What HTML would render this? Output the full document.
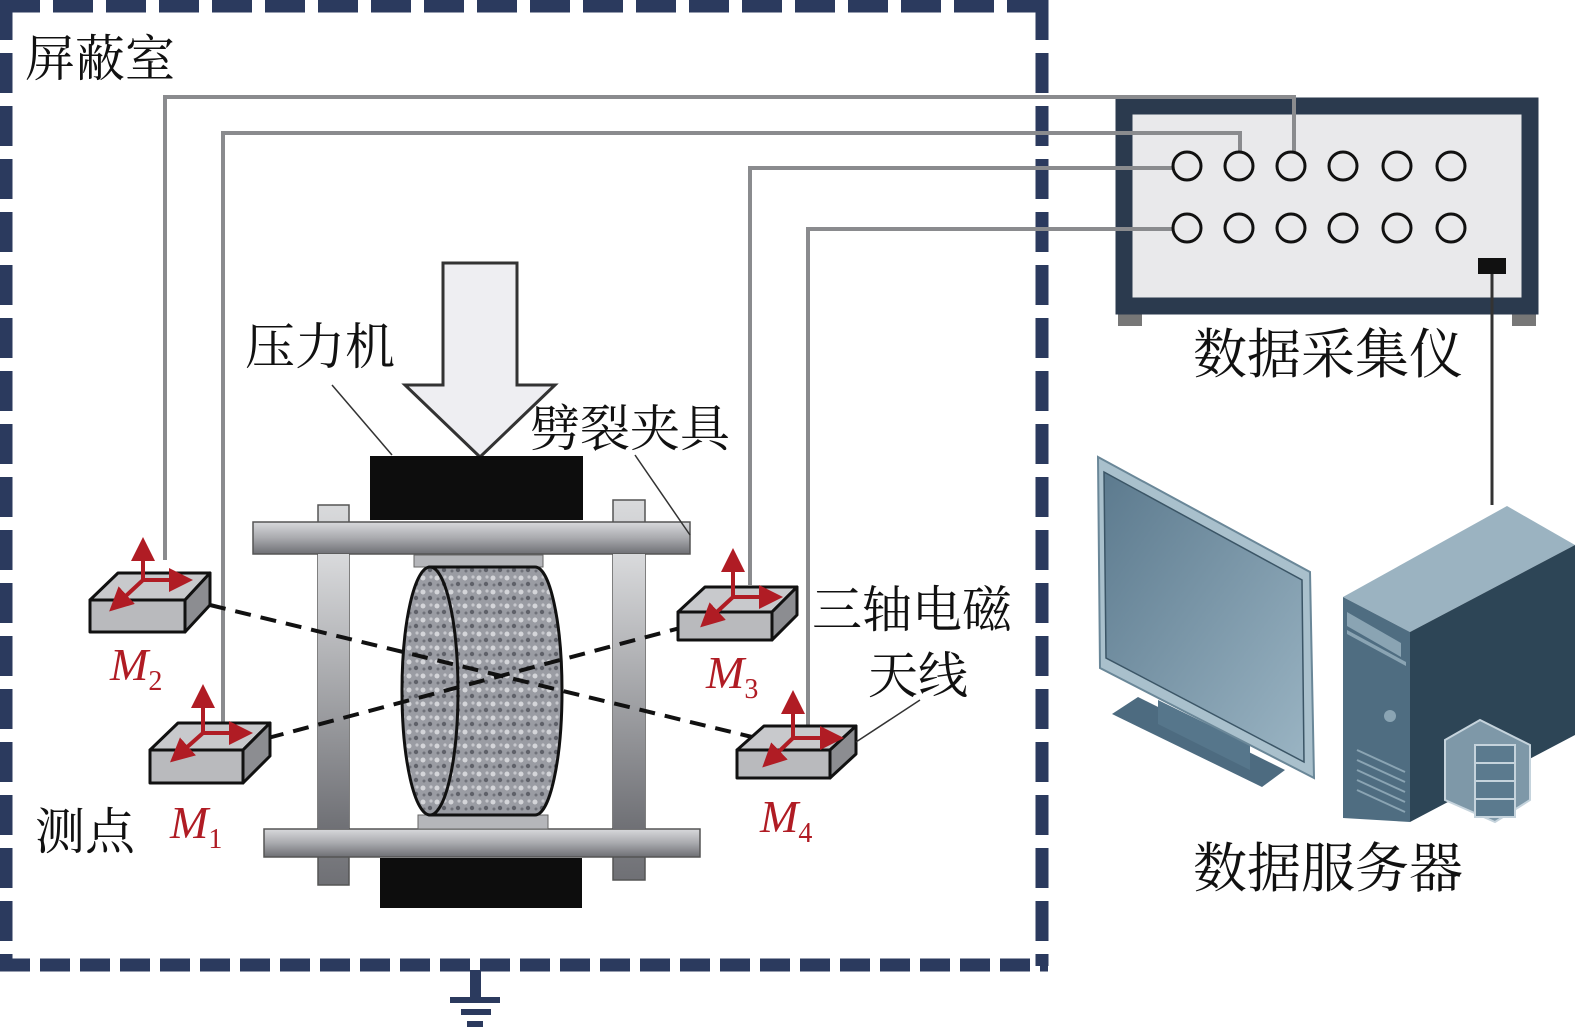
<!DOCTYPE html>
<html><head><meta charset="utf-8"><style>
body{margin:0;background:#fff;}
svg{display:block;}
text{font-family:"Liberation Serif","Noto Serif CJK SC",serif;}
</style></head><body>
<svg width="1575" height="1027" viewBox="0 0 1575 1027" xmlns="http://www.w3.org/2000/svg">
<defs>
<linearGradient id="bar" x1="0" y1="0" x2="0" y2="1"><stop offset="0" stop-color="#d8d9dc"/><stop offset="0.5" stop-color="#a9aaae"/><stop offset="1" stop-color="#6e6f74"/></linearGradient>
<linearGradient id="post" x1="0" y1="0" x2="0" y2="1"><stop offset="0" stop-color="#d9dadc"/><stop offset="1" stop-color="#6f7075"/></linearGradient>
<linearGradient id="scr" x1="0" y1="0" x2="1" y2="1"><stop offset="0" stop-color="#5c7a8e"/><stop offset="1" stop-color="#9ab4c3"/></linearGradient>
<pattern id="gran" width="14" height="14" patternUnits="userSpaceOnUse"><rect width="14" height="14" fill="#9a9ca3"/><circle cx="3" cy="4" r="2.5" fill="#d4d5d9"/><circle cx="10" cy="10" r="2.2" fill="#5f6169"/><circle cx="11" cy="3" r="1.6" fill="#c6c7cc"/><circle cx="4" cy="11" r="1.5" fill="#70727a"/></pattern>
<marker id="ra" markerWidth="6" markerHeight="6" refX="4" refY="3" orient="auto"><path d="M0,0 L6,3 L0,6 Z" fill="#b01c24"/></marker>
</defs>
<g stroke="#2b3a5e" stroke-width="13" fill="none">
<line x1="0" y1="6" x2="1042" y2="6" stroke-dasharray="40,13"/>
<line x1="6" y1="0" x2="6" y2="966" stroke-dasharray="40,13"/>
<line x1="1042" y1="0" x2="1042" y2="966" stroke-dasharray="40,13"/>
<line x1="0" y1="965" x2="1048" y2="965" stroke-dasharray="30,10"/>
</g>
<g fill="#2b3a5e"><rect x="470" y="970" width="11" height="28"/><rect x="450" y="997" width="50" height="6"/><rect x="461" y="1009" width="30" height="6"/><rect x="467" y="1021" width="16" height="6"/></g>
<!-- DAQ -->
<rect x="1118" y="308" width="24" height="18" fill="#777"/><rect x="1512" y="308" width="24" height="18" fill="#777"/>
<rect x="1124" y="106" width="406" height="200" fill="#e9e9eb" stroke="#2b3a4e" stroke-width="17"/>
<g stroke="#8a8b8e" stroke-width="4" fill="none">
<polyline points="165,560 165,97 1294,97 1294,152"/>
<polyline points="223,725 223,133 1240,133 1240,152"/>
<polyline points="750,585 750,168 1173,168"/>
<polyline points="808,735 808,229 1173,229"/>
</g>
<line x1="1492" y1="270" x2="1492" y2="505" stroke="#333" stroke-width="3"/>
<g fill="none" stroke="#111" stroke-width="3">
<circle cx="1187" cy="166" r="14"/><circle cx="1239" cy="166" r="14"/><circle cx="1291" cy="166" r="14"/><circle cx="1343" cy="166" r="14"/><circle cx="1397" cy="166" r="14"/><circle cx="1451" cy="166" r="14"/>
<circle cx="1187" cy="228" r="14"/><circle cx="1239" cy="228" r="14"/><circle cx="1291" cy="228" r="14"/><circle cx="1343" cy="228" r="14"/><circle cx="1397" cy="228" r="14"/><circle cx="1451" cy="228" r="14"/>
</g>
<rect x="1478" y="258" width="28" height="16" fill="#111"/>
<path d="M443,263 L517,263 L517,385 L555,385 L480,457 L405,385 L443,385 Z" fill="#eeeef2" stroke="#333" stroke-width="3"/>
<rect x="370" y="456" width="213" height="64" fill="#0d0d0d"/>
<rect x="380" y="858" width="202" height="50" fill="#0d0d0d"/>
<rect x="318" y="505" width="31" height="380" fill="url(#post)" stroke="#555" stroke-width="1.5"/>
<rect x="613" y="500" width="32" height="380" fill="url(#post)" stroke="#555" stroke-width="1.5"/>
<rect x="253" y="522" width="437" height="32" fill="url(#bar)" stroke="#555" stroke-width="1.5"/>
<rect x="264" y="829" width="436" height="28" fill="url(#bar)" stroke="#555" stroke-width="1.5"/>
<rect x="318" y="554" width="31" height="275" fill="url(#post)"/>
<rect x="613" y="554" width="32" height="275" fill="url(#post)"/>
<rect x="414" y="555" width="129" height="12" fill="#b5b6ba" stroke="#666"/>
<rect x="418" y="815" width="130" height="14" fill="#b5b6ba" stroke="#666"/>
<path d="M430,567 L535,567 A27,124 0 0 1 535,815 L430,815 Z" fill="url(#gran)" stroke="#111" stroke-width="3"/>
<ellipse cx="430" cy="691" rx="28" ry="124" fill="url(#gran)" stroke="#111" stroke-width="3"/>
<g stroke="#111" stroke-width="4" stroke-dasharray="16,10" fill="none">
<line x1="210" y1="605" x2="752" y2="737"/>
<line x1="268" y1="738" x2="680" y2="628"/>
</g>
<g stroke="#111" stroke-width="3" stroke-linejoin="round">
<path d="M90,600 L118,573 L210,573 L185,600 Z" fill="#c8c9cc"/><path d="M185,600 L210,573 L210,605 L185,632 Z" fill="#8c8d91"/><rect x="90" y="600" width="95" height="32" fill="#b9babd"/>
<path d="M150,750 L178,723 L270,723 L243,750 Z" fill="#c8c9cc"/><path d="M243,750 L270,723 L270,756 L243,783 Z" fill="#8c8d91"/><rect x="150" y="750" width="93" height="33" fill="#b9babd"/>
<path d="M678,612 L705,587 L797,587 L772,612 Z" fill="#c8c9cc"/><path d="M772,612 L797,587 L797,615 L772,640 Z" fill="#8c8d91"/><rect x="678" y="612" width="94" height="28" fill="#b9babd"/>
<path d="M737,750 L764,726 L856,726 L830,750 Z" fill="#c8c9cc"/><path d="M830,750 L856,726 L856,754 L830,778 Z" fill="#8c8d91"/><rect x="737" y="750" width="93" height="28" fill="#b9babd"/>
</g>
<g stroke="#b01c24" stroke-width="4" fill="none" marker-end="url(#ra)">
<line x1="143" y1="580" x2="143" y2="545"/><line x1="143" y1="580" x2="185" y2="580"/><line x1="143" y1="580" x2="115" y2="606"/>
<line x1="203" y1="733" x2="203" y2="692"/><line x1="203" y1="733" x2="245" y2="733"/><line x1="203" y1="733" x2="176" y2="757"/>
<line x1="733" y1="597" x2="733" y2="556"/><line x1="733" y1="597" x2="775" y2="597"/><line x1="733" y1="597" x2="706" y2="622"/>
<line x1="793" y1="738" x2="793" y2="698"/><line x1="793" y1="738" x2="836" y2="738"/><line x1="793" y1="738" x2="768" y2="762"/>
</g>
<g stroke="#333" stroke-width="1.5"><line x1="332" y1="385" x2="392" y2="455"/><line x1="635" y1="455" x2="690" y2="535"/><line x1="920" y1="700" x2="856" y2="742"/></g>
<!-- computer -->
<path d="M1112,714 L1138,697 L1285,770 L1262,787 Z" fill="#4d6b80"/>
<path d="M1158,700 L1250,745 L1250,770 L1158,724 Z" fill="#56768b"/>
<path d="M1098,457 L1310,572 L1314,778 L1100,668 Z" fill="#a9c0cc" stroke="#6a8798" stroke-width="2"/>
<path d="M1104,472 L1302,580 L1304,762 L1106,658 Z" fill="url(#scr)" stroke="#3b5566" stroke-width="1.5"/>
<path d="M1343,597 L1507,506 L1575,545 L1410,632 Z" fill="#9bb3c1"/>
<path d="M1410,632 L1575,545 L1575,735 L1410,822 Z" fill="#2d4556"/>
<path d="M1343,597 L1410,632 L1410,822 L1343,818 Z" fill="#4f6d81"/>
<path d="M1347,612 L1401,643 L1401,657 L1347,626 Z" fill="#8aa4b3"/>
<path d="M1347,630 L1406,662 L1406,666 L1347,634 Z" fill="#8aa4b3"/>
<circle cx="1390" cy="716" r="6" fill="#8aa4b3"/>
<g stroke="#8aa4b3" stroke-width="2"><line x1="1357" y1="750" x2="1405" y2="772"/><line x1="1357" y1="760" x2="1405" y2="782"/><line x1="1357" y1="770" x2="1405" y2="792"/><line x1="1357" y1="780" x2="1405" y2="802"/><line x1="1357" y1="790" x2="1405" y2="812"/></g>
<path d="M1445,740 L1480,720 L1530,745 L1530,800 L1495,822 L1445,800 Z" fill="#7e98a8" stroke="#c5d3dc" stroke-width="2"/>
<g fill="#5b7a8e" stroke="#c5d3dc" stroke-width="2"><rect x="1475" y="745" width="40" height="18"/><rect x="1475" y="763" width="40" height="18"/><rect x="1475" y="781" width="40" height="18"/><rect x="1475" y="799" width="40" height="18"/></g>
<g font-size="50" fill="#111">
<text x="25" y="76">屏蔽室</text>
<text x="245" y="364">压力机</text>
<text x="530" y="446">劈裂夹具</text>
<text x="812" y="627">三轴电磁</text>
<text x="868" y="693">天线</text>
<text x="35" y="849">测点</text>
<text x="1193" y="373" font-size="54">数据采集仪</text>
<text x="1193" y="887" font-size="54">数据服务器</text>
</g>
<g fill="#b01c24" font-style="italic" font-size="46">
<text x="110" y="680">M<tspan font-size="28" font-style="normal" dy="10">2</tspan></text>
<text x="170" y="838">M<tspan font-size="28" font-style="normal" dy="10">1</tspan></text>
<text x="706" y="688">M<tspan font-size="28" font-style="normal" dy="10">3</tspan></text>
<text x="760" y="832">M<tspan font-size="28" font-style="normal" dy="10">4</tspan></text>
</g>
</svg>
</body></html>
